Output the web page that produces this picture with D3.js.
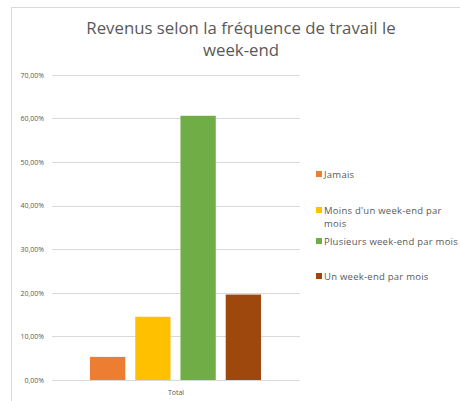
<!DOCTYPE html>
<html>
<head>
<meta charset="utf-8">
<script src="https://cdn.jsdelivr.net/npm/d3@7"></script>
<style>
  body { margin: 0; background: #fff; }
  text { font-family: "Open Sans", sans-serif; fill: #595959; }
</style>
</head>
<body>
<svg id="chart" width="460" height="401"></svg>
<script>
var categories = ["Jamais", "Moins d'un week-end par mois", "Plusieurs week-end par mois", "Un week-end par mois"];
var values = [0.053, 0.145, 0.606, 0.196];
var groupLabels = ["Total"];
var yTicks = [0, 0.1, 0.2, 0.3, 0.4, 0.5, 0.6, 0.7];
var colors = ["#ED7D31", "#FFC000", "#70AD47", "#9E480E"];
var titleLines = ["Revenus selon la fréquence de travail le", "week-end"];

var svg = d3.select("#chart");

// french number format
var fr = d3.formatLocale({ decimal: ",", thousands: " ", grouping: [3], currency: ["", " €"] });
var pct = fr.format(".2%");

// frame of the chart area
svg.append("rect")
    .attr("x", 11.5).attr("y", 7.5)
    .attr("width", 460).attr("height", 400)
    .attr("fill", "none")
    .attr("stroke", "#d9d9d9");

// title (two lines)
svg.append("g").selectAll("text")
    .data(titleLines)
    .enter()
    .append("text")
    .attr("x", 241)
    .attr("y", function (d, i) { return 34 + i * 22; })
    .attr("text-anchor", "middle")
    .style("font-size", "16.8px")
    .text(function (d) { return d; });

// scales
var y = d3.scaleLinear().domain([0, 0.7]).range([380, 74.8]);
var xGroup = d3.scaleBand().domain(groupLabels).range([52, 300]);
var x = d3.scaleBand().domain(categories).range([90, 261]).paddingInner(0.22).paddingOuter(0);

// gridlines + labels
var yAxis = d3.axisLeft(y).tickValues(yTicks).tickFormat(pct).tickSize(-248).tickPadding(8);
var gy = svg.append("g").attr("transform", "translate(52,0)").call(yAxis);
gy.select(".domain").remove();
gy.selectAll(".tick line").attr("stroke", "#d9d9d9").attr("shape-rendering", "crispEdges");
gy.selectAll(".tick text").style("font-size", "7px").attr("fill", "#595959");

// bars
svg.append("g").selectAll("rect")
    .data(values)
    .enter()
    .append("rect")
    .attr("x", function (d, i) { return x(categories[i]); })
    .attr("y", function (d) { return y(d); })
    .attr("width", x.bandwidth())
    .attr("height", function (d) { return y(0) - y(d); })
    .attr("fill", function (d, i) { return colors[i]; });

// category axis label
svg.append("text")
    .attr("x", xGroup(groupLabels[0]) + xGroup.bandwidth() / 2)
    .attr("y", 395)
    .attr("text-anchor", "middle")
    .style("font-size", "7px")
    .text(groupLabels[0]);

// legend
var legendY = [175, 211, 242, 277];
var legend = svg.append("g").selectAll("g")
    .data(categories)
    .enter()
    .append("g")
    .attr("transform", function (d, i) { return "translate(316," + legendY[i] + ")"; });

legend.append("rect")
    .attr("x", 0).attr("y", -4)
    .attr("width", 6).attr("height", 6)
    .attr("fill", function (d, i) { return colors[i]; });

legend.append("text")
    .attr("x", 8).attr("y", 0)
    .attr("dy", "0.35em")
    .style("font-size", "9.5px")
    .style("letter-spacing", "0.25px")
    .each(function (d) {
        // wrap long labels
        var t = d3.select(this), words = d.split(" "), line = [];
        var tspan = t.append("tspan").attr("x", 8);
        words.forEach(function (w) {
            line.push(w);
            tspan.text(line.join(" "));
            if (tspan.node().getComputedTextLength() > 137 && line.length > 1) {
                line.pop();
                tspan.text(line.join(" "));
                line = [w];
                tspan = t.append("tspan").attr("x", 8).attr("dy", "1.35em").text(w);
            }
        });
    });
</script>
</body>
</html>
